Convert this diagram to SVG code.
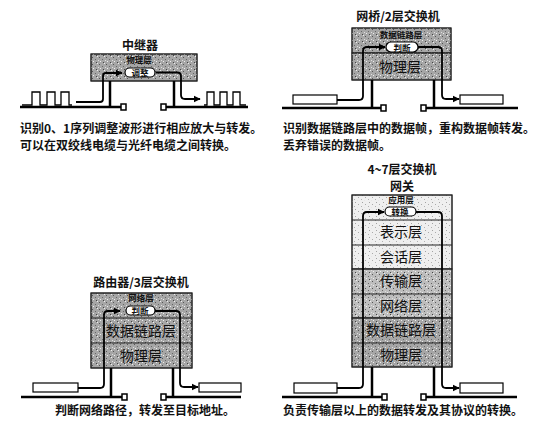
<svg xmlns="http://www.w3.org/2000/svg" width="550" height="426" viewBox="0 0 550 426">
<defs>
  <pattern id="spk" width="7" height="7" patternUnits="userSpaceOnUse">
    <rect x="1" y="1" width="1" height="1" fill="#555"/>
    <rect x="4" y="3" width="1" height="1" fill="#666"/>
    <rect x="2" y="5" width="1" height="1" fill="#eee"/>
    <rect x="6" y="0" width="1" height="1" fill="#eee"/>
    <rect x="5" y="6" width="1" height="1" fill="#444"/>
    <rect x="0" y="4" width="1" height="1" fill="#ddd"/>
  </pattern>
  <marker id="ah" viewBox="0 0 10 10" refX="9" refY="5" markerWidth="4" markerHeight="4" orient="auto" markerUnits="strokeWidth">
    <path d="M0,0 L10,5 L0,10 z" fill="#000"/>
  </marker>
</defs>
<style>
  .t{font-family:"Noto Sans CJK SC","Noto Sans",sans-serif;font-weight:bold;fill:#111}
  .ttl{font-size:12px;text-anchor:middle}
  .cap{font-size:12px}
  .sm{font-size:8.5px;text-anchor:middle;font-weight:bold}
  .lg{font-size:14px;text-anchor:middle;font-weight:normal}
  .box{stroke:#222;stroke-width:1}
  .g1{fill:#a6a6a6}
  .g2{fill:#bdbdbd}
  .g3{fill:#efefef}
  .tex{fill:url(#spk);stroke:none}
  .pill{fill:#fff;stroke:#000;stroke-width:1.2}
  .dev{fill:#fff;stroke:#000;stroke-width:1.2}
  .ln{fill:none;stroke:#000;stroke-width:2.5}
  .ar{fill:none;stroke:#000;stroke-width:1.8;stroke-linejoin:round}
  .sq{fill:#fff;stroke:#000;stroke-width:1.5}
</style>

<!-- Repeater -->
<g id="repeater">
  <text class="t ttl" x="140" y="50">中继器</text>
  <rect class="box g1" x="91" y="54" width="106" height="27"/>
  <rect class="tex" x="91" y="54" width="106" height="27"/>
  <rect x="91" y="54" width="106" height="27" fill="none" stroke="#222"/>
  <text class="t sm" x="139" y="62.5">物理层</text>
  <rect class="pill" x="125" y="68" width="30" height="9" rx="4.5"/>
  <text class="t sm" x="140" y="75.8">调整</text>
</g>
<g id="repeater-links">
  <path class="ln" d="M20,107 H121"/>
  <path class="ln" d="M164,107 H248"/>
  <path class="ln" d="M110,81 V107"/>
  <path class="ln" d="M174,81 V107"/>
  <rect class="sq" x="121" y="104" width="5" height="6"/>
  <rect class="sq" x="161" y="104" width="5" height="6"/>
  <path fill="none" stroke="#000" stroke-width="1.3" d="M22,105 H32 V92 H40 V105 H47 V92 H55 V105 H61 V92 H69 V105 H72"/>
  <path fill="none" stroke="#000" stroke-width="1.3" d="M204,105 H207 V92 H214 V105 H220 V92 H227 V105 H233 V92 H240 V105 H246"/>
  <path class="ar" d="M76,102 H100 Q103,102 103,99 V76 Q103,73 106,73 H122" marker-end="url(#ah)"/>
  <path class="ar" d="M156,72.5 H177 Q181,72.5 181,76 V95 Q181,99 185,99 H200" marker-end="url(#ah)"/>
</g>
<text class="t cap" x="20" y="133">识别0、1序列调整波形进行相应放大与转发。</text>
<text class="t cap" x="20" y="150">可以在双绞线电缆与光纤电缆之间转换。</text>

<!-- Bridge -->
<g id="bridge">
  <text class="t ttl" x="398" y="21">网桥/2层交换机</text>
  <rect class="box g1" x="352" y="28" width="99" height="25"/>
  <rect class="box g1" x="352" y="53" width="99" height="27"/>
  <rect class="tex" x="352" y="28" width="99" height="52"/>
  <rect x="352" y="28" width="99" height="52" fill="none" stroke="#222"/>
  <line x1="352" y1="53" x2="451" y2="53" stroke="#222"/>
  <text class="t sm" x="401" y="37.5">数据链路层</text>
  <rect class="pill" x="386" y="42" width="32" height="10" rx="5"/>
  <text class="t sm" x="402" y="50.5">判断</text>
  <text class="t lg" x="400" y="72">物理层</text>
</g>
<g id="bridge-links">
  <path class="ln" d="M282,108 H382"/>
  <path class="ln" d="M425,108 H518"/>
  <path class="ln" d="M372,80 V108"/>
  <path class="ln" d="M434,80 V108"/>
  <rect class="sq" x="381" y="105" width="5" height="6"/>
  <rect class="sq" x="421" y="105" width="5" height="6"/>
  <rect class="dev" x="293" y="95" width="44" height="9"/>
  <rect class="dev" x="460" y="95" width="43" height="9"/>
  <path class="ar" d="M337,100 H359 Q363,100 363,96 V51 Q363,47 367,47 H385" marker-end="url(#ah)"/>
  <path class="ar" d="M418,47 H438 Q442,47 442,51 V95 Q442,99 446,99 H459" marker-end="url(#ah)"/>
</g>
<text class="t cap" x="283" y="133">识别数据链路层中的数据帧，重构数据帧转发。</text>
<text class="t cap" x="283" y="150">丢弃错误的数据帧。</text>

<!-- Router -->
<g id="router">
  <text class="t ttl" x="141" y="287">路由器/3层交换机</text>
  <rect class="box g1" x="91" y="293" width="101" height="75"/>
  <rect class="tex" x="91" y="293" width="101" height="75"/>
  <rect x="91" y="293" width="101" height="75" fill="none" stroke="#222"/>
  <line x1="91" y1="318" x2="192" y2="318" stroke="#222"/>
  <line x1="91" y1="343" x2="192" y2="343" stroke="#222"/>
  <text class="t sm" x="141" y="301">网络层</text>
  <rect class="pill" x="126" y="306" width="29" height="9" rx="4.5"/>
  <text class="t sm" x="140" y="314">判断</text>
  <text class="t lg" x="141" y="336" font-size="15">数据链路层</text>
  <text class="t lg" x="141" y="361">物理层</text>
</g>
<g id="router-links">
  <path class="ln" d="M21,397 H122"/>
  <path class="ln" d="M165,397 H241"/>
  <path class="ln" d="M111,368 V397"/>
  <path class="ln" d="M173,368 V397"/>
  <rect class="sq" x="122" y="394" width="5" height="6"/>
  <rect class="sq" x="161" y="394" width="5" height="6"/>
  <rect class="dev" x="33" y="383" width="45" height="9"/>
  <rect class="dev" x="199" y="383" width="42" height="9"/>
  <path class="ar" d="M78,388 H100 Q104,388 104,384 V315 Q104,311 108,311 H120" marker-end="url(#ah)"/>
  <path class="ar" d="M155,311 H176 Q180,311 180,315 V383 Q180,387 184,387 H198" marker-end="url(#ah)"/>
</g>
<text class="t cap" x="55" y="415">判断网络路径，转发至目标地址。</text>

<!-- Gateway -->
<g id="gateway">
  <text class="t ttl" x="402" y="174">4~7层交换机</text>
  <text class="t ttl" x="402" y="191">网关</text>
  <rect class="box g3" x="352" y="195" width="100" height="74"/>
  <rect class="box g2" x="352" y="269" width="100" height="49"/>
  <rect class="box g1" x="352" y="318" width="100" height="49"/>
  <rect class="tex" x="352" y="195" width="100" height="172" opacity="0.45"/>
  <rect class="tex" x="352" y="269" width="100" height="98"/>
  <rect x="352" y="195" width="100" height="172" fill="none" stroke="#222"/>
  <line x1="352" y1="220" x2="452" y2="220" stroke="#222"/>
  <line x1="352" y1="245" x2="452" y2="245" stroke="#222"/>
  <line x1="352" y1="269" x2="452" y2="269" stroke="#222"/>
  <line x1="352" y1="294" x2="452" y2="294" stroke="#222"/>
  <line x1="352" y1="318" x2="452" y2="318" stroke="#222"/>
  <line x1="352" y1="343" x2="452" y2="343" stroke="#222"/>
  <text class="t sm" x="401" y="203">应用层</text>
  <rect class="pill" x="385" y="207" width="31" height="9" rx="4.5"/>
  <text class="t sm" x="400" y="215">转换</text>
  <text class="t lg" x="401" y="237">表示层</text>
  <text class="t lg" x="401" y="262">会话层</text>
  <text class="t lg" x="401" y="286">传输层</text>
  <text class="t lg" x="401" y="311">网络层</text>
  <text class="t lg" x="401" y="335">数据链路层</text>
  <text class="t lg" x="401" y="360">物理层</text>
</g>
<g id="gateway-links">
  <path class="ln" d="M282,397 H383"/>
  <path class="ln" d="M425,397 H517"/>
  <path class="ln" d="M372,367 V397"/>
  <path class="ln" d="M434,367 V397"/>
  <rect class="sq" x="382" y="394" width="5" height="6"/>
  <rect class="sq" x="421" y="394" width="5" height="6"/>
  <rect class="dev" x="294" y="383" width="43" height="10"/>
  <rect class="dev" x="460" y="383" width="43" height="10"/>
  <path class="ar" d="M337,388 H359 Q363,388 363,384 V216 Q363,212 367,212 H384" marker-end="url(#ah)"/>
  <path class="ar" d="M416,212 H438 Q442,212 442,216 V384 Q442,388 446,388 H459" marker-end="url(#ah)"/>
</g>
<text class="t cap" x="283" y="415">负责传输层以上的数据转发及其协议的转换。</text>
</svg>
